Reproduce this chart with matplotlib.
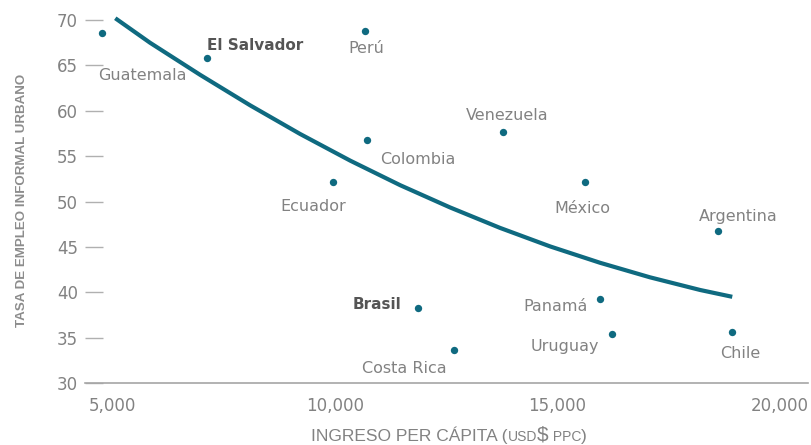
import matplotlib
matplotlib.use('Agg')
import matplotlib.pyplot as plt
from matplotlib.offsetbox import TextArea, HPacker, AnchoredOffsetbox

# country data (ingreso per capita USD PPC, tasa de empleo informal urbano %)
paises = ['Guatemala', 'El Salvador', 'Perú', 'Colombia', 'Ecuador', 'Venezuela',
          'México', 'Argentina', 'Brasil', 'Panamá', 'Uruguay', 'Costa Rica', 'Chile']
ingreso = [4770, 7130, 10680, 10730, 9950, 13780, 15620, 18600, 11880, 15950, 16230, 12690, 18930]
informal = [68.6, 65.8, 68.8, 56.8, 52.2, 57.7, 52.2, 46.8, 38.3, 39.3, 35.4, 33.6, 35.6]

# trend line
tend_x = [5070, 5850, 6980, 8100, 9220, 10350, 11470, 12590, 13710, 14840, 15960, 17080, 18210, 18930]
tend_y = [70.2, 67.5, 63.95, 60.6, 57.45, 54.5, 51.8, 49.35, 47.1, 45.05, 43.25, 41.65, 40.25, 39.5]

xticks = [5000, 10000, 15000, 20000]
xtick_labels = ['5,000', '10,000', '15,000', '20,000']
yticks = [30, 35, 40, 45, 50, 55, 60, 65, 70]

# label placement (text centre, data coords)
label_pos = {
    'Guatemala': (5670, 63.9), 'El Salvador': (8210, 67.25), 'Perú': (10700, 66.9),
    'Colombia': (11870, 54.6), 'Ecuador': (9510, 49.4), 'Venezuela': (13870, 59.5),
    'México': (15560, 49.2), 'Argentina': (19060, 48.4), 'Brasil': (10950, 38.7),
    'Panamá': (14950, 38.4), 'Uruguay': (15170, 34.0), 'Costa Rica': (11560, 31.65),
    'Chile': (19100, 33.3),
}
bold = {'El Salvador', 'Brasil'}

teal = '#0f6a80'
gray = '#828282'
plt.rcParams['font.family'] = ['DejaVu Sans']

fig = plt.figure(figsize=(8.12, 4.45), dpi=100)
ax = fig.add_axes([0.1047, 0.1393, 0.8903, 0.834])

ax.plot(tend_x, tend_y, color=teal, lw=3.0, solid_capstyle='butt', solid_joinstyle='round', zorder=2)
ax.scatter(ingreso, informal, s=28, color=teal, zorder=3, linewidths=0)

for p in paises:
    lx, ly = label_pos[p]
    if p in bold:
        ax.text(lx, ly, p, ha='center', va='center', fontsize=11, color='#555555', fontweight='bold')
    else:
        ax.text(lx, ly, p, ha='center', va='center', fontsize=11.5, color=gray)

ax.set_xlim(4390, 20630)
ax.set_ylim(30, 70.9)
ax.set_xticks(xticks)
ax.set_xticklabels(xtick_labels)
ax.set_yticks(yticks)

for s in ['left', 'right', 'top']:
    ax.spines[s].set_visible(False)
ax.spines['bottom'].set_color('#a6a6a6')
ax.spines['bottom'].set_linewidth(1.2)

ax.tick_params(axis='y', direction='in', length=13, width=1, color='#b0b0b0',
               labelcolor=gray, labelsize=12, pad=5)
ax.tick_params(axis='x', length=0, labelcolor=gray, labelsize=12, pad=10)

fam = ['Liberation Sans Narrow', 'Liberation Sans', 'DejaVu Sans']
fig.text(0.027, 0.55, 'TASA DE EMPLEO INFORMAL URBANO', rotation=90, ha='center', va='center',
         fontsize=9.6, fontweight='bold', color='#8c8c8c', family=fam)

# x label with mixed sizes
parts = [('INGRESO PER CÁPITA (', 12.5), ('USD', 10), ('$', 15), (' PPC', 10), (')', 12.5)]
boxes = [TextArea(t, textprops=dict(fontsize=sz, color=gray, family=fam)) for t, sz in parts]
pack = HPacker(children=boxes, align='baseline', pad=0, sep=0)
anch = AnchoredOffsetbox(loc='center', child=pack, frameon=False,
                         bbox_to_anchor=(0.553, 0.022), bbox_transform=fig.transFigure, borderpad=0)
fig.add_artist(anch)

fig.savefig('out.png', dpi=100)
